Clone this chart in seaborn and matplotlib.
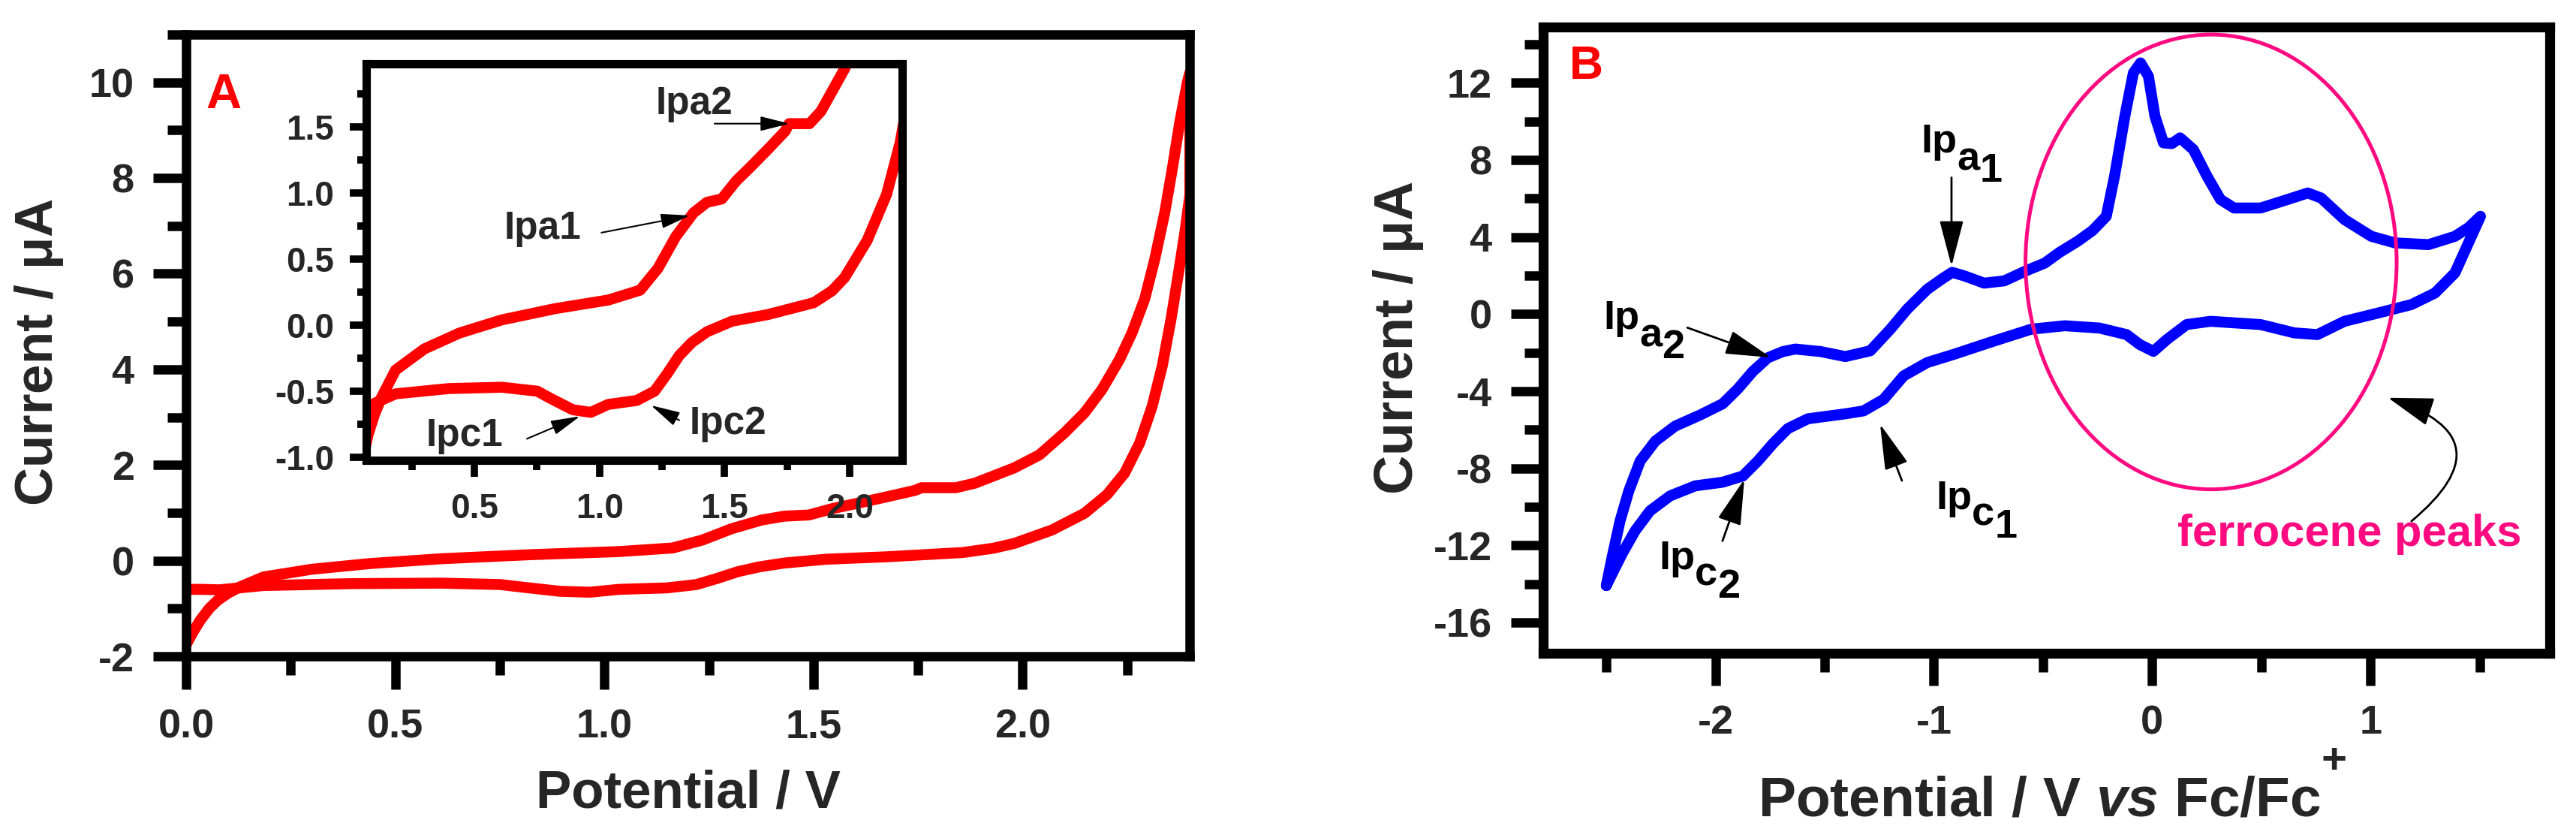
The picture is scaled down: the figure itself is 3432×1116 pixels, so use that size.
import numpy as np
import matplotlib
matplotlib.use('Agg')
import matplotlib.pyplot as plt
import seaborn as sns
from matplotlib.patches import Ellipse
from matplotlib.ticker import MultipleLocator, FormatStrFormatter
from matplotlib.transforms import offset_copy

# ---------------------------------------------------------------------------
# Data
# ---------------------------------------------------------------------------
# Panel A: forward (anodic) and reverse scans, potential in V, current in uA
a_fwd_potential = [0.0, 0.017, 0.034, 0.055, 0.075, 0.1, 0.128, 0.185, 0.30, 0.44,
                   0.61, 0.823, 1.035, 1.163, 1.234, 1.305, 1.376, 1.43, 1.489, 1.546,
                   1.60, 1.673, 1.743, 1.758, 1.84, 1.886, 1.98, 2.04, 2.10, 2.148,
                   2.19, 2.232, 2.262, 2.292, 2.316, 2.34, 2.358, 2.376, 2.394, 2.40]
a_fwd_current = [-1.75, -1.48, -1.24, -1.0, -0.83, -0.68, -0.55, -0.34, -0.18, -0.06,
                 0.04, 0.125, 0.19, 0.265, 0.43, 0.67, 0.85, 0.93, 0.955, 1.09,
                 1.19, 1.33, 1.47, 1.525, 1.525, 1.62, 1.94, 2.21, 2.67, 3.09,
                 3.58, 4.21, 4.77, 5.47, 6.30, 7.28, 8.19, 9.17, 10.0, 10.2]
a_rev_potential = [2.40, 2.40, 2.40, 2.388, 2.373, 2.355, 2.334, 2.31, 2.28, 2.244,
                   2.202, 2.148, 2.07, 1.98, 1.93, 1.857, 1.673, 1.53, 1.43, 1.37,
                   1.319, 1.27, 1.22, 1.149, 1.035, 0.965, 0.893, 0.80, 0.752, 0.61,
                   0.398, 0.185, 0.114, 0.079, 0.04, 0.0]
a_rev_current = [10.2, 8.8, 7.64, 6.86, 6.02, 5.05, 4.07, 3.23, 2.46, 1.83,
                 1.38, 0.99, 0.64, 0.36, 0.26, 0.17, 0.08, 0.03, -0.05, -0.13,
                 -0.23, -0.37, -0.50, -0.57, -0.60, -0.66, -0.64, -0.55, -0.50, -0.47,
                 -0.48, -0.52, -0.58, -0.61, -0.6, -0.6]

# Panel B: potential vs Fc/Fc+ in V, current in uA
b_fwd_potential = [-2.5, -2.472, -2.437, -2.397, -2.345, -2.276, -2.185, -2.07, -1.967, -1.898,
                   -1.829, -1.76, -1.691, -1.634, -1.519, -1.405, -1.291, -1.199, -1.122, -1.03,
                   -0.96, -0.916, -0.861, -0.769, -0.677, -0.578, -0.492, -0.425, -0.339, -0.272,
                   -0.21, -0.172, -0.125, -0.086, -0.053, -0.017, 0.013, 0.052, 0.09, 0.128,
                   0.189, 0.251, 0.313, 0.375, 0.497, 0.62, 0.713, 0.774, 0.881, 1.004,
                   1.112, 1.266, 1.387, 1.45, 1.504]
b_fwd_current = [-14.08, -12.53, -10.72, -9.17, -7.62, -6.59, -5.81, -5.23, -4.65, -3.88,
                 -2.97, -2.26, -1.94, -1.81, -1.94, -2.2, -1.9, -0.78, 0.26, 1.29,
                 1.85, 2.17, 1.99, 1.61, 1.73, 2.25, 2.65, 3.2, 3.8, 4.35,
                 5.08, 7.17, 10.27, 12.52, 13.04, 12.35, 10.27, 8.89, 8.85, 9.15,
                 8.54, 7.17, 5.95, 5.51, 5.51, 5.95, 6.29, 6.03, 4.91, 4.04,
                 3.7, 3.61, 4.04, 4.5, 5.08]
b_rev_potential = [1.504, 1.449, 1.387, 1.296, 1.188, 1.035, 0.881, 0.757, 0.651, 0.497,
                   0.267, 0.158, 0.067, 0.006, -0.056, -0.117, -0.241, -0.40, -0.554, -0.723,
                   -0.907, -1.03, -1.138, -1.23, -1.322, -1.405, -1.577, -1.669, -1.737, -1.806,
                   -1.875, -1.967, -2.093, -2.208, -2.30, -2.368, -2.426, -2.472, -2.5]
b_rev_current = [5.08, 3.7, 2.14, 1.1, 0.5, 0.06, -0.37, -1.06, -0.97, -0.54,
                 -0.37, -0.54, -1.32, -1.93, -1.58, -1.06, -0.72, -0.6, -0.78, -1.39,
                 -2.08, -2.51, -3.2, -4.42, -5.02, -5.17, -5.43, -5.94, -6.72, -7.62,
                 -8.40, -8.72, -8.91, -9.43, -10.21, -11.24, -12.40, -13.44, -14.08]

# Ferrocene region marker (centre x, centre y, width, height) in data units
ferro_ellipse = (0.27, 2.71, 1.70, 23.6)

# ---------------------------------------------------------------------------
# Style
# ---------------------------------------------------------------------------
sns.set_style('ticks')
plt.rcParams['font.family'] = ['Liberation Sans', 'DejaVu Sans']
plt.rcParams['font.weight'] = 'bold'
plt.rcParams['axes.unicode_minus'] = False
plt.rcParams['mathtext.fontset'] = 'custom'
plt.rcParams['mathtext.rm'] = 'Liberation Sans:bold'
plt.rcParams['mathtext.bf'] = 'Liberation Sans:bold'
plt.rcParams['mathtext.it'] = 'Liberation Sans:italic:bold'
plt.rcParams['mathtext.sf'] = 'Liberation Sans'

RED = '#FF0000'
BLUE = '#0000FF'
PINK = '#FF0A80'
NARROW = ['Liberation Sans Narrow', 'Liberation Sans']

fig = plt.figure(figsize=(34.32, 11.16), dpi=100)
axA = fig.add_axes([0.0723, 0.2168, 0.3896, 0.742])
axB = fig.add_axes([0.599, 0.2204, 0.3907, 0.7473])
axI = fig.add_axes([0.1422, 0.4507, 0.208, 0.473])
axI.set_zorder(3)


def style_axes(ax, spine_w, major_len, minor_len, tick_w, fs, pad):
    for s in ax.spines.values():
        s.set_linewidth(spine_w)
        s.set_color('black')
    ax.tick_params(which='both', direction='out', top=False, right=False,
                   width=tick_w, labelsize=fs, pad=pad, color='black')
    ax.tick_params(which='major', length=major_len)
    ax.tick_params(which='minor', length=minor_len)
    ax.set_facecolor('white')


def cv_plot(ax, fx, fy, rx, ry, color):
    pot = np.r_[fx, rx]
    cur = np.r_[fy, ry]
    sns.lineplot(x=pot, y=cur, sort=False, estimator=None, ax=ax, color=color,
                 linewidth=10.5, solid_joinstyle='round', solid_capstyle='round')


def arrow(ax, start, tip, lw, ms, hl, hw, conn='arc3'):
    ax.annotate('', xy=tip, xytext=start,
                arrowprops=dict(arrowstyle=f'-|>,head_length={hl},head_width={hw}',
                                color='black', lw=lw, mutation_scale=ms,
                                shrinkA=0, shrinkB=0, connectionstyle=conn))


def sub_label(ax, x, y, parts, fs):
    # text pieces side by side, each dropped below the baseline by some pixels
    renderer = fig.canvas.get_renderer()
    dx = 0.0
    for s, drop in parts:
        tr = offset_copy(ax.transData, fig=fig, x=dx, y=-drop, units='dots')
        t = ax.text(x, y, s, transform=tr, fontsize=fs, fontweight='bold',
                    ha='left', va='baseline', color='black')
        dx += t.get_window_extent(renderer).width


# ---------------------------------------------------------------------------
# Panel A
# ---------------------------------------------------------------------------
cv_plot(axA, a_fwd_potential, a_fwd_current, a_rev_potential, a_rev_current, RED)
axA.set_xlim(0, 2.4)
axA.set_ylim(-2, 11)
axA.xaxis.set_major_locator(MultipleLocator(0.5))
axA.xaxis.set_minor_locator(MultipleLocator(0.25))
axA.yaxis.set_major_locator(MultipleLocator(2))
axA.yaxis.set_minor_locator(MultipleLocator(1))
axA.xaxis.set_major_formatter(FormatStrFormatter('%.1f'))
axA.yaxis.set_major_formatter(FormatStrFormatter('%d'))
style_axes(axA, 9, 32, 18, 9, 39, 18)
axA.set_xlabel('Potential / V', fontsize=51, fontweight='bold')
axA.set_ylabel('Current / $\\mathsf{μA}$', fontsize=51, fontweight='bold')
axA.xaxis.set_label_coords(0.5, -0.182)
axA.yaxis.set_label_coords(-0.1204, 0.4885)
axA.text(0.0195, 0.882, 'A', transform=axA.transAxes, color=RED, fontsize=47,
         fontweight='bold', ha='left', va='baseline')

# inset
cv_plot(axI, a_fwd_potential, a_fwd_current, a_rev_potential, a_rev_current, RED)
axI.set_xlim(0.068, 2.21)
axI.set_ylim(-1.023, 1.977)
axI.xaxis.set_major_locator(MultipleLocator(0.5))
axI.xaxis.set_minor_locator(MultipleLocator(0.25))
axI.yaxis.set_major_locator(MultipleLocator(0.5))
axI.yaxis.set_minor_locator(MultipleLocator(0.25))
axI.xaxis.set_major_formatter(FormatStrFormatter('%.1f'))
axI.yaxis.set_major_formatter(FormatStrFormatter('%.1f'))
style_axes(axI, 8, 16, 9, 7, 33, 15)
axI.set_xlabel('')
axI.set_ylabel('')

inset_fs = 37
axI.text(1.38, 1.676, 'Ipa2', family=NARROW, fontsize=inset_fs, ha='center', va='center')
axI.text(0.773, 0.733, 'Ipa1', family=NARROW, fontsize=inset_fs, ha='center', va='center')
axI.text(0.461, -0.84, 'Ipc1', family=NARROW, fontsize=inset_fs, ha='center', va='center')
axI.text(1.515, -0.745, 'Ipc2', family=NARROW, fontsize=inset_fs, ha='center', va='center')
arrow(axI, (1.46, 1.525), (1.76, 1.525), 1.5, 20, 1.2, 0.3)
arrow(axI, (1.008, 0.70), (1.362, 0.83), 1.5, 20, 1.2, 0.3)
arrow(axI, (0.71, -0.86), (0.922, -0.69), 1.5, 20, 1.2, 0.3)
arrow(axI, (1.319, -0.72), (1.206, -0.607), 1.5, 20, 1.2, 0.3)

# ---------------------------------------------------------------------------
# Panel B
# ---------------------------------------------------------------------------
cv_plot(axB, b_fwd_potential, b_fwd_current, b_rev_potential, b_rev_current, BLUE)
axB.set_xlim(-2.79, 1.82)
axB.set_ylim(-17.6, 14.9)
axB.xaxis.set_major_locator(MultipleLocator(1))
axB.xaxis.set_minor_locator(MultipleLocator(0.5))
axB.yaxis.set_major_locator(MultipleLocator(4))
axB.yaxis.set_minor_locator(MultipleLocator(2))
axB.xaxis.set_major_formatter(FormatStrFormatter('%d'))
axB.yaxis.set_major_formatter(FormatStrFormatter('%d'))
style_axes(axB, 9.5, 31, 18, 9, 39, 18)
axB.set_xlabel('Potential / V $\\mathit{vs}$ Fc/Fc', fontsize=54, fontweight='bold')
axB.set_ylabel('Current / $\\mathsf{μA}$', fontsize=52, fontweight='bold')
axB.xaxis.set_label_coords(0.493, -0.195)
axB.yaxis.set_label_coords(-0.117, 0.5036)
fig.text(3110 / 3432, 1 - 1015 / 1116, '+', fontsize=42, fontweight='bold',
         ha='center', va='center')
axB.text(0.026, 0.917, 'B', transform=axB.transAxes, color=RED, fontsize=45,
         fontweight='bold', ha='left', va='baseline')

cx, cy, ew, eh = ferro_ellipse
axB.add_patch(Ellipse((cx, cy), ew, eh, facecolor='none', edgecolor=PINK, lw=3.6, zorder=3))
axB.text(0.905, -11.43, 'ferrocene peaks', color=PINK, fontsize=43,
         fontweight='bold', ha='center', va='center')
arrow(axB, (1.188, -10.74), (1.081, -4.34), 2, 40, 0.95, 0.3, conn='arc3,rad=0.9')

# peak labels with two-level subscripts
lab_fs = 39
sub_label(axB, -1.06, 8.39, [('Ip', 0), ('a', 23), ('1', 39)], lab_fs)
sub_label(axB, -2.513, -0.78, [('Ip', 0), ('a', 23), ('2', 39)], lab_fs)
sub_label(axB, -0.991, -10.12, [('Ip', 0), ('c', 21), ('1', 38)], lab_fs)
sub_label(axB, -2.26, -13.24, [('Ip', 0), ('c', 21), ('2', 38)], lab_fs)
arrow(axB, (-0.919, 7.09), (-0.919, 2.5), 2, 40, 0.95, 0.25)
arrow(axB, (-2.129, -0.70), (-1.746, -2.25), 2, 40, 0.95, 0.25)
arrow(axB, (-1.146, -8.64), (-1.246, -5.71), 2, 40, 0.95, 0.25)
arrow(axB, (-1.968, -11.77), (-1.868, -8.57), 2, 40, 0.95, 0.25)

fig.savefig('out.png', dpi=100, facecolor='white')
plt.close(fig)
